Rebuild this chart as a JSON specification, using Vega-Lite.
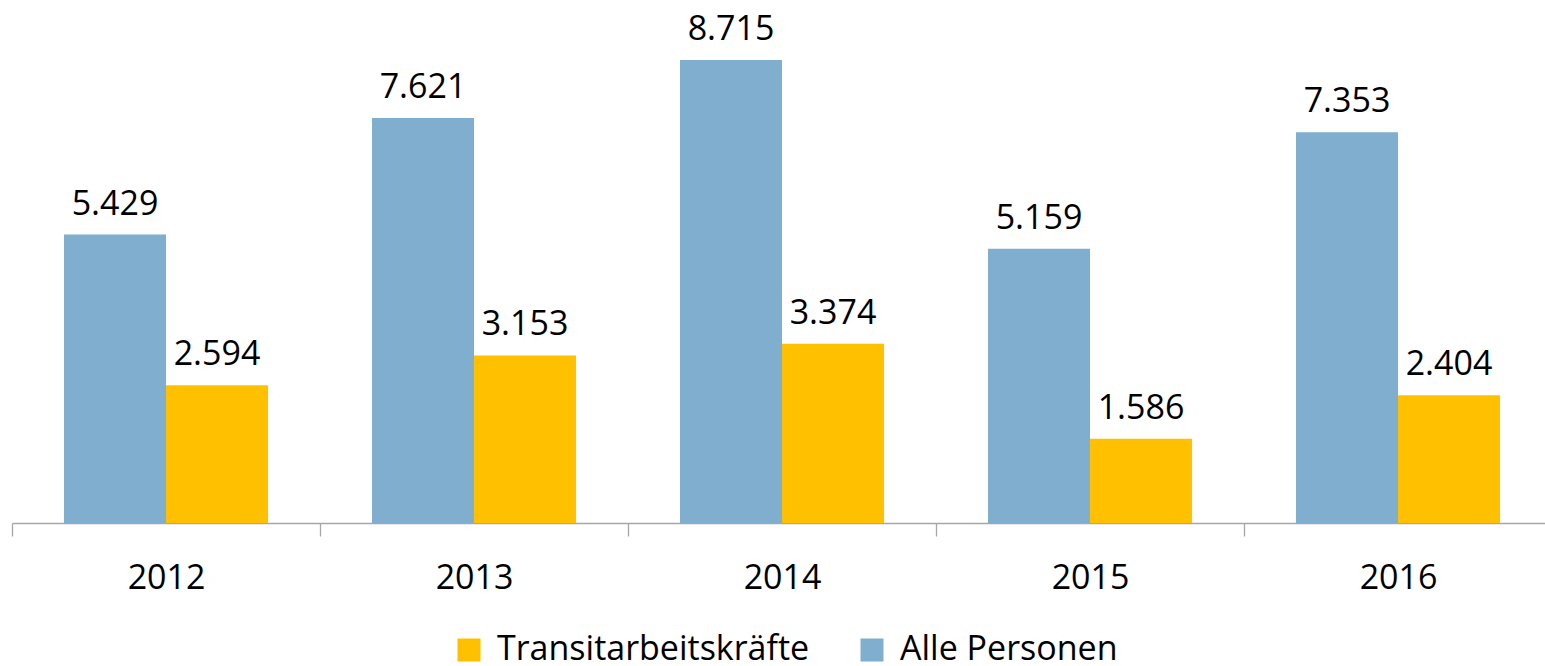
{
  "$schema": "https://vega.github.io/schema/vega-lite/v6.json",
  "width": 1540,
  "height": 523,
  "autosize": {"type": "none"},
  "padding": {"left": 12, "right": -7, "top": 0, "bottom": 143},
  "config": {
    "font": "Open Sans",
    "view": {"stroke": null},
    "locale": {"number": {"decimal": ",", "thousands": ".", "grouping": [3], "currency": ["", " €"]}}
  },
  "data": {
    "values": [
      {"Jahr": "2012", "Gruppe": "Alle Personen", "Wert": 5429},
      {"Jahr": "2012", "Gruppe": "Transitarbeitskräfte", "Wert": 2594},
      {"Jahr": "2013", "Gruppe": "Alle Personen", "Wert": 7621},
      {"Jahr": "2013", "Gruppe": "Transitarbeitskräfte", "Wert": 3153},
      {"Jahr": "2014", "Gruppe": "Alle Personen", "Wert": 8715},
      {"Jahr": "2014", "Gruppe": "Transitarbeitskräfte", "Wert": 3374},
      {"Jahr": "2015", "Gruppe": "Alle Personen", "Wert": 5159},
      {"Jahr": "2015", "Gruppe": "Transitarbeitskräfte", "Wert": 1586},
      {"Jahr": "2016", "Gruppe": "Alle Personen", "Wert": 7353},
      {"Jahr": "2016", "Gruppe": "Transitarbeitskräfte", "Wert": 2404}
    ]
  },
  "encoding": {
    "x": {
      "field": "Jahr",
      "type": "nominal",
      "scale": {"paddingInner": 0, "paddingOuter": 0},
      "axis": {
        "title": null,
        "labelAngle": 0,
        "labelFont": "Open Sans",
        "labelFontSize": 34,
        "labelColor": "#000000",
        "labelPadding": 25,
        "tickBand": "extent",
        "tickSize": 13,
        "tickColor": "#A6A6A6",
        "tickWidth": 1.3,
        "domainColor": "#A6A6A6",
        "domainWidth": 1.3,
        "grid": false
      }
    },
    "xOffset": {
      "field": "Gruppe",
      "type": "nominal",
      "sort": ["Alle Personen", "Transitarbeitskräfte"],
      "scale": {"paddingInner": 0, "paddingOuter": 0.51}
    },
    "y": {
      "field": "Wert",
      "type": "quantitative",
      "scale": {"domain": [0, 9842], "nice": false, "zero": true},
      "axis": null
    }
  },
  "layer": [
    {
      "mark": {"type": "bar"},
      "encoding": {
        "color": {
          "field": "Gruppe",
          "type": "nominal",
          "scale": {
            "domain": ["Transitarbeitskräfte", "Alle Personen"],
            "range": ["#FFC000", "#7FAECF"]
          },
          "legend": {
            "title": null,
            "orient": "none",
            "direction": "horizontal",
            "legendX": 440,
            "legendY": 633,
            "symbolType": "square",
            "symbolSize": 529,
            "symbolStrokeWidth": 0,
            "labelFont": "Open Sans",
            "labelFontSize": 34,
            "labelColor": "#000000",
            "labelOffset": 11,
            "columnPadding": 45,
            "labelLimit": 600
          }
        }
      }
    },
    {
      "mark": {"type": "text", "baseline": "alphabetic", "dy": -20, "fontSize": 34, "font": "Open Sans", "color": "#000000"},
      "encoding": {
        "text": {"field": "Wert", "type": "quantitative", "format": ",d"}
      }
    }
  ]
}
